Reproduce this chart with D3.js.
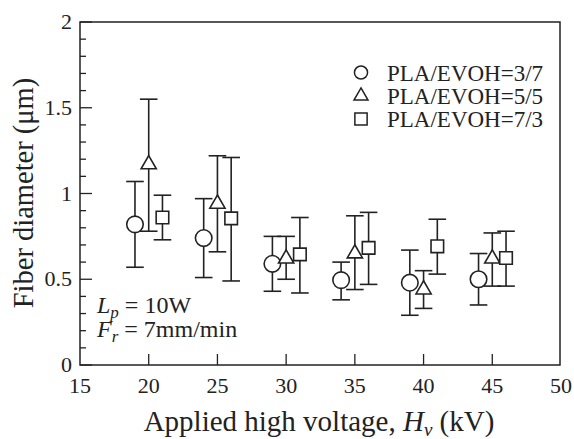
<!DOCTYPE html>
<html><head><meta charset="utf-8">
<script src="https://cdn.jsdelivr.net/npm/d3@7"></script>
<style>body{margin:0;background:#fff}svg{display:block}text{font-family:"Liberation Serif","Times New Roman",serif;fill:#222}</style>
</head><body>
<script>
const xTicks = [15,20,25,30,35,40,45,50];
const yTicks = [0,0.5,1,1.5,2];
const seriesNames = ["PLA/EVOH=3/7","PLA/EVOH=5/5","PLA/EVOH=7/3"];
const circleX = [19,24,29,34,39,44];
const circleMean = [0.82,0.74,0.59,0.495,0.48,0.50];
const circleLo = [0.57,0.51,0.43,0.38,0.29,0.35];
const circleHi = [1.07,0.97,0.75,0.60,0.67,0.65];
const triX = [20,25,30,35,40,45];
const triMean = [1.17,0.94,0.62,0.65,0.44,0.62];
const triLo = [0.78,0.66,0.50,0.44,0.33,0.46];
const triHi = [1.55,1.22,0.75,0.87,0.55,0.77];
const sqX = [21,26,31,36,41,46];
const sqMean = [0.86,0.855,0.645,0.683,0.692,0.624];
const sqLo = [0.73,0.49,0.42,0.47,0.53,0.46];
const sqHi = [0.99,1.21,0.86,0.89,0.85,0.78];

const W=574,H=439;
const svg=d3.select("body").append("svg").attr("width",W).attr("height",H);
const x=d3.scaleLinear().domain([15,50]).range([80,561]);
const y=d3.scaleLinear().domain([0,2]).range([365,22]);
const ink="#222";

// frame
svg.append("rect").attr("x",80).attr("y",22).attr("width",480).attr("height",343)
  .attr("fill","none").attr("stroke",ink).attr("stroke-width",1.5);

// y ticks (inward)
const yMinor=d3.range(0,2.0001,0.1);
svg.append("g").selectAll("line").data(yMinor).join("line")
  .attr("x1",x(15)).attr("x2",d=>x(15)+ (Math.abs(d*2-Math.round(d*2))<1e-6?12:6))
  .attr("y1",d=>y(d)).attr("y2",d=>y(d)).attr("stroke",ink).attr("stroke-width",1.3);
svg.append("g").selectAll("text").data(yTicks).join("text")
  .attr("x",72).attr("y",d=>y(d)+7).attr("text-anchor","end").attr("font-size",22)
  .text(d=>d3.format("~g")(d));
// x ticks
svg.append("g").selectAll("line").data(xTicks.slice(1,-1)).join("line")
  .attr("x1",d=>x(d)).attr("x2",d=>x(d)).attr("y1",y(0)).attr("y2",y(0)-11)
  .attr("stroke",ink).attr("stroke-width",1.3);
svg.append("g").selectAll("text").data(xTicks).join("text")
  .attr("x",d=>x(d)).attr("y",393).attr("text-anchor","middle").attr("font-size",22)
  .text(d=>d);

// axis titles
const xt=svg.append("text").attr("x",319).attr("y",431).attr("text-anchor","middle").attr("font-size",29);
xt.append("tspan").text("Applied high voltage,  ");
xt.append("tspan").attr("font-style","italic").text("H");
xt.append("tspan").attr("font-style","italic").attr("font-size",19).attr("dy",5).text("v");
xt.append("tspan").attr("dy",-5).text(" (kV)");
svg.append("text").attr("transform","translate(33,193) rotate(-90)").attr("text-anchor","middle")
  .attr("font-size",28.5).text("Fiber diameter (\u03bcm)");

// annotation
const a1=svg.append("text").attr("x",97).attr("y",313).attr("font-size",24);
a1.append("tspan").attr("font-style","italic").text("L");
a1.append("tspan").attr("font-style","italic").attr("font-size",17).attr("dy",5).text("p");
a1.append("tspan").attr("dy",-5).text(" = 10W");
const a2=svg.append("text").attr("x",97).attr("y",337).attr("font-size",24);
a2.append("tspan").attr("font-style","italic").text("F");
a2.append("tspan").attr("font-style","italic").attr("font-size",17).attr("dy",5).text("r");
a2.append("tspan").attr("dy",-5).text(" = 7mm/min");

// series
const series=[
  {xs:circleX,m:circleMean,lo:circleLo,hi:circleHi,sym:d3.symbolCircle,size:215,lsize:135},
  {xs:triX,m:triMean,lo:triLo,hi:triHi,sym:d3.symbolTriangle,size:100,lsize:85},
  {xs:sqX,m:sqMean,lo:sqLo,hi:sqHi,sym:d3.symbolSquare,size:158,lsize:150}
];
const cap=8.8;
series.forEach(s=>{
  const g=svg.append("g").attr("stroke",ink).attr("stroke-width",1.6);
  s.xs.forEach((xv,i)=>{
    const px=x(xv);
    g.append("line").attr("x1",px).attr("x2",px).attr("y1",y(s.lo[i])).attr("y2",y(s.hi[i]));
    g.append("line").attr("x1",px-cap).attr("x2",px+cap).attr("y1",y(s.lo[i])).attr("y2",y(s.lo[i]));
    g.append("line").attr("x1",px-cap).attr("x2",px+cap).attr("y1",y(s.hi[i])).attr("y2",y(s.hi[i]));
  });
});
series.forEach(s=>{
  svg.append("g").selectAll("path").data(s.xs).join("path")
    .attr("d",d3.symbol().type(s.sym).size(s.size))
    .attr("transform",(d,i)=>`translate(${x(d)},${y(s.m[i])})`)
    .attr("fill","#fff").attr("stroke",ink).attr("stroke-width",1.6);
});

// legend
const legY=[72.5,96,119];
series.forEach((s,i)=>{
  svg.append("path").attr("d",d3.symbol().type(s.sym).size(s.lsize)())
    .attr("transform",`translate(361,${legY[i]})`).attr("fill","#fff").attr("stroke",ink).attr("stroke-width",1.5);
  svg.append("text").attr("x",387).attr("y",legY[i]+8).attr("font-size",23).text(seriesNames[i]);
});
</script>
</body></html>
